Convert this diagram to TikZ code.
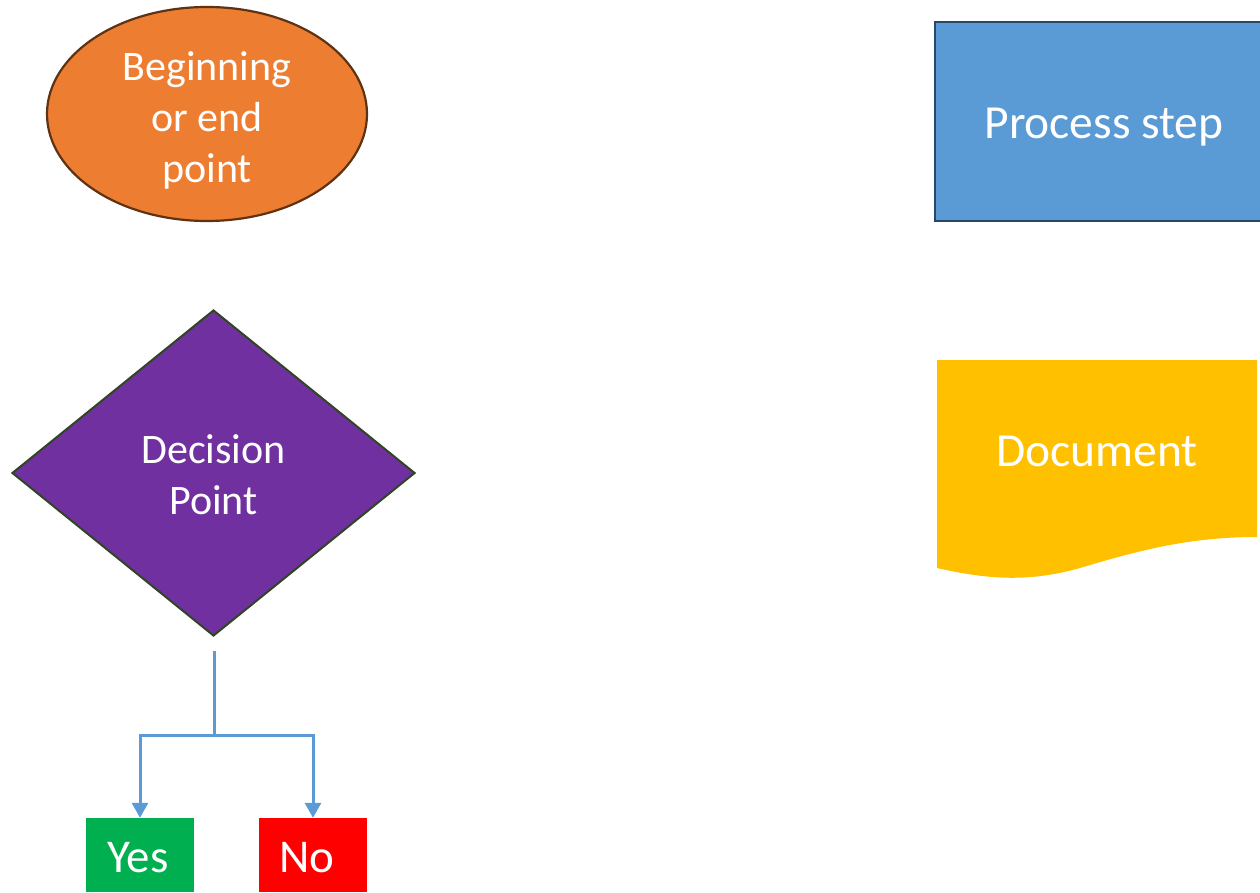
\documentclass[tikz,border=0pt]{standalone}
\usepackage{fontspec}
\setmainfont{Carlito}
\usetikzlibrary{shapes.geometric,arrows.meta,calc}
\definecolor{orangefill}{HTML}{ED7D31}
\definecolor{orangeline}{HTML}{5E3314}
\definecolor{bluefill}{HTML}{5B9BD5}
\definecolor{blueline}{HTML}{264766}
\definecolor{purplefill}{HTML}{7030A0}
\definecolor{purpleline}{HTML}{2F4526}
\definecolor{goldfill}{HTML}{FFC000}
\definecolor{yesfill}{HTML}{00B050}
\definecolor{nofill}{HTML}{FF0000}
\definecolor{connblue}{HTML}{5B9BD5}
\tikzset{
  lbl/.style={text=white, align=center, inner sep=0pt},
  bigtxt/.style={font=\fontsize{42}{51}\selectfont},
  hugetxt/.style={font=\fontsize{47.5}{57}\selectfont},
  yntxt/.style={font=\fontsize{47}{55}\selectfont},
  ynbox/.style={minimum width=108pt, minimum height=74pt, inner sep=0pt},
  conn/.style={draw=connblue, line width=3pt, -{Triangle[width=16pt,length=15pt]}},
}
\begin{document}
\begin{tikzpicture}[x=1pt,y=-1pt]
\useasboundingbox (0,0) rectangle (1260,893);
% beginning/end ellipse
\node[ellipse, fill=orangefill, draw=orangeline, line width=2.2pt,
      minimum width=320pt, minimum height=214pt, inner sep=0pt]
  (start) at (207,114) {};
\node[lbl, bigtxt] (starttext) at (207,120) {Beginning\\or end\\point};
% process step
\node[rectangle, fill=bluefill, draw=blueline, line width=2.2pt,
      minimum width=338pt, minimum height=199pt, inner sep=0pt]
  (process) at (1104,121.5) {};
\node[lbl, hugetxt] (processtext) at (1104,127.5) {Process step};
% decision diamond
\node[diamond, fill=purplefill, draw=purpleline, line width=2pt,
      minimum width=403pt, minimum height=326pt, inner sep=0pt]
  (decision) at (213.5,473) {};
\node[lbl, bigtxt] (decisiontext) at (213.5,475) {Decision\\Point};
% document shape
\fill[goldfill] (937,360) -- (1257,360) -- (1257,537)
   .. controls (1190,537) and (1140,550) .. (1080,568)
   .. controls (1030,582) and (990,580) .. (937,568) -- cycle;
\node[lbl, hugetxt] (doctext) at (1097,451) {Document};
% yes / no
\node[ynbox, fill=yesfill] (yes) at (140,855) {};
\node[lbl, yntxt] (yestext) at (138,858) {Yes};
\node[ynbox, fill=nofill] (no) at (313,855) {};
\node[lbl, yntxt] (notext) at (307,858) {No};
% connectors
\coordinate (c0) at (214,651);
\coordinate (j) at (214,735);
\draw[conn] (c0) -- (j) -| (yes.north);
\draw[conn] (c0) -- (j) -| (no.north);
\end{tikzpicture}
\end{document}
